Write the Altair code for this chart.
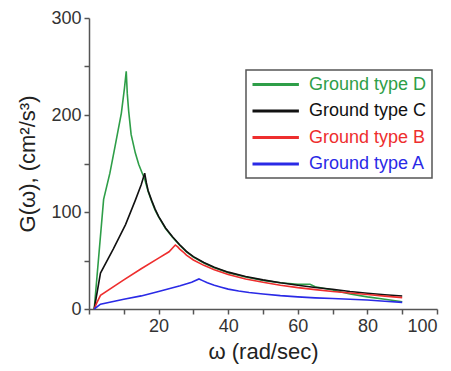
import altair as alt
import pandas as pd

series_names = ["Ground type D", "Ground type C", "Ground type B", "Ground type A"]
series_colors = ["#2e9e48", "#111111", "#ee2e2e", "#2a2ae6"]

# Ground type D (green)
omega_D = [1.5, 4.2, 6.0, 7.5, 9.3, 10.2, 10.7, 11.0, 11.4, 12.1, 13.3, 14.3, 15.3, 16.0, 17, 18, 19, 20,
           22, 24, 26, 28, 30, 33, 36, 40, 45, 50, 55, 60, 62, 63.5, 65, 70, 75, 80, 85, 90]
G_D = [0, 113, 140, 168, 202, 228, 245, 222, 204, 180, 161, 149, 140, 134, 121, 111, 102, 95,
       83, 74, 66, 59, 53.5, 47.5, 42.5, 37.5, 33, 29.5, 27, 25.5, 25.5, 25.5, 23, 19.5, 15.5, 12.5, 10, 7.5]

# Ground type C (black)
omega_C = [1.5, 3.3, 7, 10.5, 13.3, 15.0, 16.0, 16.5, 17, 18, 19, 20, 22, 24, 26, 28, 30, 33, 36, 40, 45,
           50, 55, 60, 65, 70, 75, 80, 85, 90]
G_C = [0, 37, 62, 87, 112, 128, 140, 130, 122, 112, 103, 95.5, 83.5, 74.5, 66.5, 59.5, 54, 48, 43, 38, 33.5,
       30, 27, 24.5, 22.2, 20.3, 18, 16.2, 14.7, 13.4]

# Ground type B (red)
omega_B = [1.5, 2.2, 3.3, 10, 15, 20, 23, 24.8, 25.5, 26, 27, 28, 30, 33, 36, 40, 45, 50, 55, 60,
           65, 70, 75, 80, 85, 90]
G_B = [0, 6, 14, 30, 41.5, 52.5, 59, 66, 64, 62, 59, 55.5, 50.5, 45, 40.5, 35.5, 31, 27.5, 24.5, 22,
       20, 18, 16.5, 15, 13.3, 11.7]

# Ground type A (blue)
omega_A = [1.5, 3.3, 10, 15, 20, 26.2, 29.5, 31.6, 32.5, 34, 36, 38, 40, 43, 46, 50, 55, 60, 65,
           70, 75, 80, 85, 90]
G_A = [0, 5, 10, 13.5, 18, 24, 27.5, 31, 29.5, 27, 24.5, 22.5, 20.5, 18.5, 17, 15.5, 13.8, 12.5, 11.5,
       10.8, 10, 9.3, 8, 6.8]

x_ticks = list(range(0, 101, 10))
y_ticks = list(range(0, 301, 50))

rows = []
for name, om, gg in zip(series_names, [omega_D, omega_C, omega_B, omega_A], [G_D, G_C, G_B, G_A]):
    for o, g in zip(om, gg):
        rows.append({"series": name, "omega": o, "G": g})
df = pd.DataFrame(rows)

FONT = "Liberation Sans"

legend = alt.Legend(
    title=None,
    orient="none",
    legendX=157,
    legendY=52,
    symbolType="M-1,0H4.8",
    symbolSize=256,
    symbolStrokeWidth=3,
    labelFontSize=18,
    labelFont=FONT,
    labelOffset=39,
    labelColor=alt.ExprRef("scale('color', datum.value)"),
    rowPadding=7.5,
    padding=5,
    strokeColor="#555555",
    fillColor="white",
)

chart = alt.Chart(df).mark_line(strokeWidth=1.6).encode(
    x=alt.X(
        "omega:Q",
        scale=alt.Scale(domain=[0, 100], nice=False),
        axis=alt.Axis(
            values=x_ticks,
            labelExpr="(datum.value % 20 == 0 && datum.value > 0) ? datum.label : ''",
            title="ω (rad/sec)",
            titlePadding=6,
        ),
    ),
    y=alt.Y(
        "G:Q",
        scale=alt.Scale(domain=[0, 300], nice=False),
        axis=alt.Axis(
            values=y_ticks,
            labelExpr="(datum.value % 100 == 0) ? datum.label : ''",
            title="G(ω), (cm²/s³)",
            titlePadding=11,
        ),
    ),
    color=alt.Color(
        "series:N",
        scale=alt.Scale(domain=series_names, range=series_colors),
        legend=legend,
    ),
).properties(
    width=348,
    height=291,
    autosize=alt.AutoSizeParams(type="none"),
    padding={"left": 89, "top": 18, "right": 14, "bottom": 62},
).configure_view(
    stroke=None
).configure_legend(
    strokeWidth=1.5
).configure_axis(
    grid=False,
    domainColor="#555555",
    domainWidth=1.5,
    tickColor="#555555",
    tickWidth=1.5,
    tickSize=5,
    labelFont=FONT,
    labelFontSize=18,
    labelColor="#333333",
    labelPadding=3,
    titleFont=FONT,
    titleFontSize=22,
    titleFontWeight="normal",
    titleColor="#222222",
)

chart.save("out.html", embed_options={"renderer": "svg", "actions": False})
